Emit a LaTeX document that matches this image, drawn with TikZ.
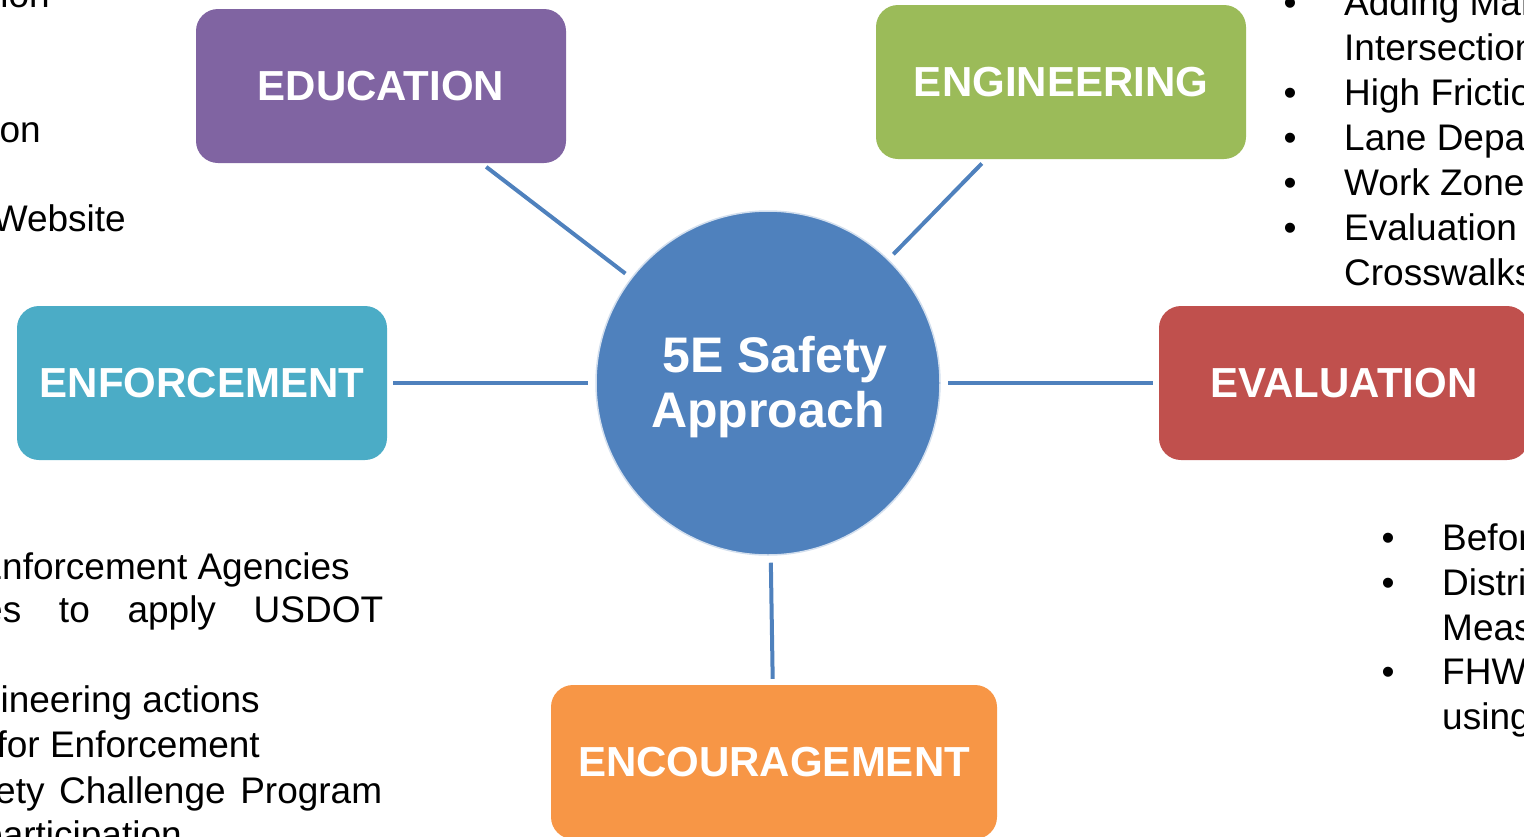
\documentclass[tikz,border=0pt]{standalone}
\usepackage{fontspec}
\setmainfont{Liberation Sans}
\definecolor{cedu}{HTML}{8064A2}
\definecolor{ceng}{HTML}{9BBB59}
\definecolor{cenf}{HTML}{4BACC6}
\definecolor{ceva}{HTML}{C0504D}
\definecolor{cenc}{HTML}{F79646}
\definecolor{chub}{HTML}{4F81BD}
\begin{document}
\begin{tikzpicture}[x=1pt,y=-1pt,
  ebox/.style={rectangle, rounded corners=22pt, minimum width=370pt, minimum height=154pt,
    inner sep=0pt, text=white, font=\fontsize{42}{50}\selectfont\bfseries},
  conn/.style={draw=chub, line width=4pt, shorten <=6pt, shorten >=7pt},
  body/.style={font=\fontsize{37}{45}\selectfont, inner sep=0pt, text=black},
  bul/.style={body, anchor=base}]
\useasboundingbox (0,0) rectangle (1524,836);
\clip (0,0) rectangle (1524,836);

% hub
\node[circle, fill=chub, draw=white!75!chub, line width=1.5pt, minimum size=344pt, inner sep=0pt,
  label={[text=white, align=center, inner sep=0pt, yshift=-4pt,
    font=\fontsize{50}{55}\selectfont\bfseries]center:{\hspace*{14pt}5E Safety\\Approach}}]
  (hub) at (768,383) {};

% boxes
\node[ebox, fill=cedu] (edu) at (381,86) {EDUCATION};
\node[ebox, fill=ceng] (eng) at (1061,82) {ENGINEERING};
\node[ebox, fill=cenf] (enf) at (202,383) {ENFORCEMENT};
\node[ebox, fill=ceva] (eva) at (1344,383) {EVALUATION};
\node[ebox, fill=cenc, minimum width=446pt] (enc) at (774,762) {ENCOURAGEMENT};

% connectors
\draw[conn] (edu) -- (hub);
\draw[conn] (eng) -- (hub);
\draw[conn] (enf) -- (hub);
\draw[conn] (eva) -- (hub);
\draw[conn] (enc) -- (hub);

% left top text (cut)
\node[body, anchor=base east] (lt1) at (50,7) {tion};
\node[body, anchor=base east] (lt2) at (41,142) {on};
\node[body, anchor=base east] (lt3) at (126,231) {Website};

% left bottom text (cut)
\node[body, anchor=base east] (lb1) at (350,579) {Enforcement Agencies};
\node[body, anchor=base west] (lb2) at (-18,622) {\makebox[401pt][s]{es to apply USDOT}};
\node[body, anchor=base east] (lb3) at (260,712) {ineering actions};
\node[body, anchor=base east] (lb4) at (260,757) {for Enforcement};
\node[body, anchor=base west] (lb5) at (-5,803) {\makebox[387pt][s]{ety Challenge Program}};
\node[body, anchor=base west] (lb6) at (-18,847) {participation};

% right top list (cut)
\node[bul] (rb1) at (1290,15) {•};
\node[body, anchor=base west] (rt1) at (1344,15) {Adding Mar};
\node[body, anchor=base west] (rt2) at (1344,60) {Intersection};
\node[bul] (rb3) at (1290,105) {•};
\node[body, anchor=base west] (rt3) at (1344,105) {High Friction};
\node[bul] (rb4) at (1290,150) {•};
\node[body, anchor=base west] (rt4) at (1344,150) {Lane Depar};
\node[bul] (rb5) at (1290,195) {•};
\node[body, anchor=base west] (rt5) at (1344,195) {Work Zone};
\node[bul] (rb6) at (1290,240) {•};
\node[body, anchor=base west] (rt6) at (1344,240) {Evaluation};
\node[body, anchor=base west] (rt7) at (1344,285) {Crosswalks};

% right bottom list (cut)
\node[bul] (sb1) at (1388,550) {•};
\node[body, anchor=base west] (st1) at (1442,550) {Before};
\node[bul] (sb2) at (1388,595) {•};
\node[body, anchor=base west] (st2) at (1442,595) {Distric};
\node[body, anchor=base west] (st3) at (1442,640) {Meas};
\node[bul] (sb4) at (1388,684) {•};
\node[body, anchor=base west] (st4) at (1442,684) {FHWA};
\node[body, anchor=base west] (st5) at (1442,729) {using};
\end{tikzpicture}
\end{document}
